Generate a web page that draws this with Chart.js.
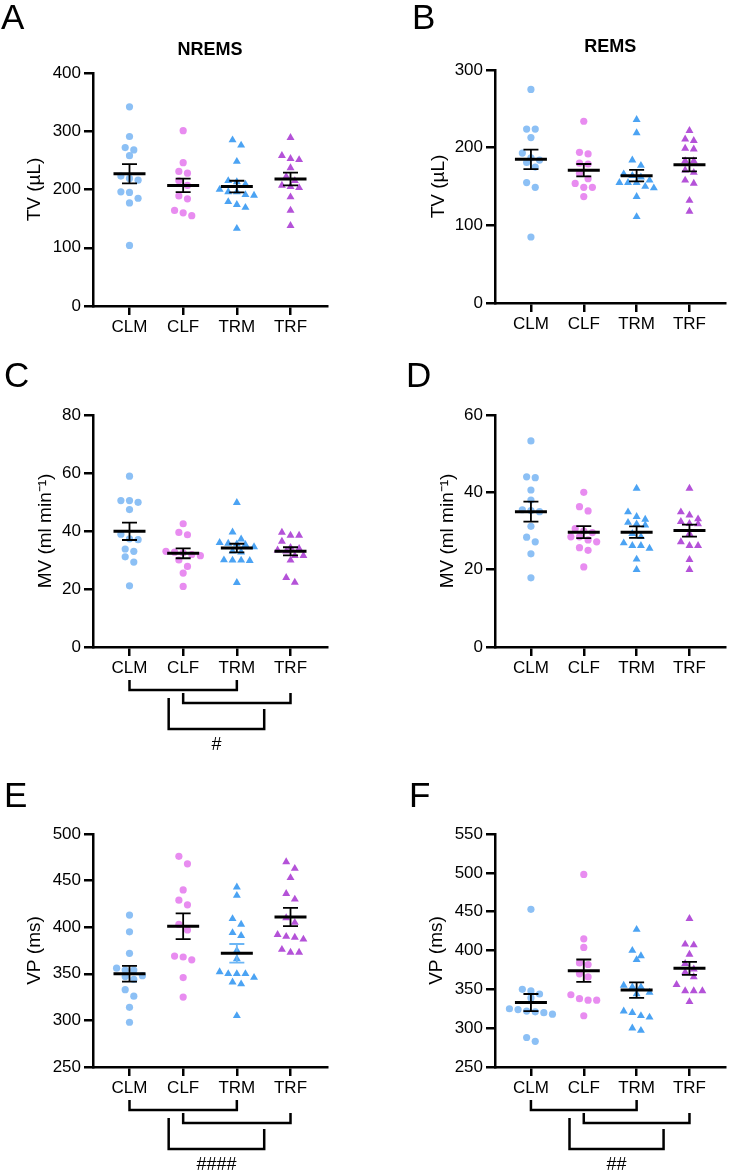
<!DOCTYPE html>
<html>
<head>
<meta charset="utf-8">
<script src="https://cdn.jsdelivr.net/npm/chart.js@4.4.1/dist/chart.umd.min.js"></script>
<style>
    body { margin: 0; background: #fff; }
    #figura { position: relative; width: 730px; height: 1171px; overflow: hidden; }
    canvas { position: absolute; }
</style>
</head>
<body>
<div id="figura">
    <canvas id="pA" width="365" height="340" style="left:0;top:0"></canvas>
    <canvas id="pB" width="365" height="340" style="left:365px;top:0"></canvas>
    <canvas id="pC" width="365" height="420" style="left:0;top:340px"></canvas>
    <canvas id="pD" width="365" height="420" style="left:365px;top:340px"></canvas>
    <canvas id="pE" width="365" height="411" style="left:0;top:760px"></canvas>
    <canvas id="pF" width="365" height="411" style="left:365px;top:760px"></canvas>
</div>
<script>
const grupos = ["CLM", "CLF", "TRM", "TRF"];

// A - TV NREMS (µL)
const tvNrems = [
    [342, 291, 272, 268, 258, 223, 219, 216, 196, 195, 185, 177, 104],
    [301, 246, 231, 228, 215, 207, 189, 184, 164, 160, 155],
    [285, 276, 248, 215, 213, 209, 200, 196, 196, 191, 190, 179, 174, 169, 133],
    [289, 258, 253, 251, 237, 222, 215, 207, 205, 203, 187, 164, 138],
];
const tvNremsMedia = [227, 207, 205, 218];
const tvNremsSem = [16.5, 11.5, 10, 11];

// B - TV REMS (µL)
const tvRems = [
    [275, 224, 224, 213, 193, 187, 184, 181, 175, 155, 149, 85],
    [234, 194, 192, 180, 179, 167, 160, 154, 149, 149, 137],
    [236, 219, 184, 177, 166, 164, 162, 158, 155, 155, 155, 150, 148, 137, 111],
    [222, 211, 209, 199, 198, 183, 183, 171, 168, 158, 154, 132, 118],
];
const tvRemsMedia = [185, 171, 164, 178];
const tvRemsSem = [12.6, 8, 7.5, 8.6];

// C - MV NREMS (ml min-1)
const mvNrems = [
    [58.9, 50.5, 50.5, 49.9, 47.4, 38.9, 37.3, 37, 33.8, 33, 31.1, 29.3, 21.1],
    [42.5, 39.5, 38.7, 33, 32.7, 32.5, 31.9, 31.5, 30, 27.8, 25.5, 20.9],
    [49.8, 39.6, 37.2, 36, 35.7, 35.5, 35.3, 34.5, 33, 32.7, 30, 29.9, 29.9, 29.8, 22.2],
    [39.5, 38.5, 38.5, 36.4, 34.3, 33.9, 33.4, 33, 31.5, 31.5, 29.9, 23.9, 22.3],
];
const mvNremsMedia = [39.9, 32.3, 34.1, 33];
const mvNremsSem = [3, 1.7, 1.5, 1.4];

// D - MV REMS (ml min-1)
const mvRems = [
    [53.3, 44, 43.8, 40.6, 38, 35.5, 35.3, 35, 31.2, 28.4, 27.2, 24.1, 17.9],
    [40, 36.3, 35.2, 30.6, 30, 29.6, 28.5, 28.5, 27.7, 27.2, 25.7, 25, 20.7],
    [41, 34.9, 33.7, 33, 32.2, 31.8, 31.5, 29.3, 28.5, 26.9, 26.2, 26.2, 25.5, 22.7, 20],
    [41, 34.9, 34.1, 33.1, 32.4, 31.9, 31.8, 29.3, 27.2, 26.2, 26.2, 22.6, 20],
];
const mvRemsMedia = [35, 29.7, 29.7, 30.1];
const mvRemsSem = [2.6, 1.55, 1.5, 1.55];

// E - VP NREMS (ms)
const vpNrems = [
    [413, 395, 372, 356, 354, 354, 348, 347, 344, 333, 326, 314, 298],
    [476, 468, 440, 429, 424, 403, 397, 369, 368, 365, 346, 325],
    [443, 434, 409, 403, 394, 391, 375, 366, 352, 350, 350, 350, 346, 341, 339, 305],
    [470, 463, 453, 436, 430, 410, 405, 392, 390, 389, 387, 376, 373, 373],
];
const vpNremsMedia = [350, 401, 372, 411];
const vpNremsSem = [8.4, 13.8, 10, 9.8];

// F - VP REMS (ms)
const vpRems = [
    [453, 350, 348, 344, 339, 325, 324, 322, 321, 320, 318, 288, 283],
    [498, 415, 404, 384, 382, 370, 366, 343, 338, 336, 336, 316],
    [427, 400, 393, 388, 355, 353, 353, 346, 344, 322, 320, 316, 314, 300, 297],
    [441, 408, 407, 395, 383, 376, 372, 366, 356, 348, 348, 348, 334],
];
const vpRemsMedia = [333, 374, 349, 377];
const vpRemsSem = [11, 14.4, 9.9, 8.4];

const colores = ["#8cc0f5", "#e88cf0", "#4ba3f3", "#b452d8"];
const formas = ["circle", "circle", "triangle", "triangle"];
const fuente = "'Liberation Sans', Arial, Helvetica, sans-serif";

Chart.defaults.font.family = fuente;
Chart.defaults.color = "#000";

// letra del panel y subtitulo
const pluginPanel = {
    id: "panel",
    afterDraw(chart, args, opts) {
        const ctx = chart.ctx;
        const area = chart.chartArea;
        ctx.save();
        ctx.fillStyle = "#000";
        ctx.textAlign = "left";
        ctx.textBaseline = "alphabetic";
        ctx.font = "35px " + fuente;
        ctx.fillText(opts.letra, opts.lx, opts.ly);
        if (opts.titulo) {
            ctx.font = "bold 18px " + fuente;
            ctx.textAlign = "center";
            ctx.textBaseline = "middle";
            ctx.fillText(opts.titulo, (area.left + area.right) / 2, area.top - 23);
        }
        ctx.restore();
    }
};

// media y SEM
const pluginEstadisticos = {
    id: "estadisticos",
    afterDatasetsDraw(chart, args, opts) {
        const ctx = chart.ctx;
        const xs = chart.scales.x;
        const ys = chart.scales.y;
        ctx.save();
        opts.media.forEach((m, g) => {
            const x = xs.getPixelForValue(g);
            const yM = ys.getPixelForValue(m);
            const yA = ys.getPixelForValue(m + opts.sem[g]);
            const yB = ys.getPixelForValue(m - opts.sem[g]);
            ctx.strokeStyle = (opts.colorBarra && opts.colorBarra[g]) || "#000";
            ctx.lineWidth = 1.8;
            ctx.beginPath();
            ctx.moveTo(x, yA); ctx.lineTo(x, yB);
            ctx.moveTo(x - 7.5, yA); ctx.lineTo(x + 7.5, yA);
            ctx.moveTo(x - 7.5, yB); ctx.lineTo(x + 7.5, yB);
            ctx.stroke();
            ctx.strokeStyle = "#000";
            ctx.lineWidth = 3;
            ctx.beginPath();
            ctx.moveTo(x - 16, yM); ctx.lineTo(x + 16, yM);
            ctx.stroke();
        });
        ctx.restore();
    }
};

// corchetes de comparacion bajo el eje x
const pluginCorchetes = {
    id: "corchetes",
    afterDraw(chart, args, opts) {
        if (!opts.items) return;
        const ctx = chart.ctx;
        const xs = chart.scales.x;
        const base = chart.chartArea.bottom;
        ctx.save();
        ctx.strokeStyle = "#000";
        ctx.lineWidth = 2.5;
        ctx.lineJoin = "miter";
        opts.items.forEach(c => {
            const x1 = xs.getPixelForValue(c.desde);
            const x2 = xs.getPixelForValue(c.hasta);
            ctx.beginPath();
            ctx.moveTo(x1, base + c.arribaIzq);
            ctx.lineTo(x1, base + c.linea);
            ctx.lineTo(x2, base + c.linea);
            ctx.lineTo(x2, base + c.arribaDer);
            ctx.stroke();
        });
        const ult = opts.items[opts.items.length - 1];
        ctx.fillStyle = "#000";
        ctx.font = "18px " + fuente;
        ctx.textAlign = "center";
        ctx.textBaseline = "middle";
        ctx.fillText(opts.etiqueta,
            (xs.getPixelForValue(ult.desde) + xs.getPixelForValue(ult.hasta)) / 2,
            base + opts.etiquetaY);
        ctx.restore();
    }
};

const corchetesBase = [
    { desde: 0, hasta: 2, arribaIzq: 33, arribaDer: 33, linea: 43 },
    { desde: 1, hasta: 3, arribaIzq: 46, arribaDer: 46, linea: 56 },
    { desde: 0.73, hasta: 2.51, arribaIzq: 51, arribaDer: 62, linea: 82 },
];

const ALTO_FILA = 7.5;
const PASO = 8.6;

// reparte los puntos de cada grupo en filas centradas (como GraphPad)
function distribuir(chart) {
    const xs = chart.scales.x;
    const ys = chart.scales.y;
    const unidad = xs.getPixelForValue(1) - xs.getPixelForValue(0);
    chart.data.datasets.forEach((ds, g) => {
        const ordenados = ds.valores.slice().sort((a, b) => b - a);
        const filas = [];
        ordenados.forEach(v => {
            const py = ys.getPixelForValue(v);
            const fila = filas[filas.length - 1];
            if (fila && py - fila.inicio < ALTO_FILA) {
                fila.valores.push(v);
            } else {
                filas.push({ inicio: py, valores: [v] });
            }
        });
        const puntos = [];
        filas.forEach(f => {
            const n = f.valores.length;
            f.valores.forEach((v, j) => {
                const dx = (j - (n - 1) / 2) * PASO;
                puntos.push({ x: g + dx / unidad, y: v });
            });
        });
        ds.data = puntos;
    });
    chart.update("none");
}

function crearPanel(id, cfg) {
    const datasets = grupos.map((g, i) => ({
        label: g,
        valores: cfg.valores[i],
        data: cfg.valores[i].map(v => ({ x: i, y: v })),
        pointStyle: formas[i],
        pointRadius: formas[i] === "circle" ? 3.6 : 4.6,
        pointHoverRadius: 0,
        backgroundColor: colores[i],
        borderColor: colores[i],
        borderWidth: 0,
    }));

    const chart = new Chart(document.getElementById(id), {
        type: "scatter",
        data: { datasets: datasets },
        options: {
            responsive: false,
            animation: false,
            devicePixelRatio: 1,
            events: [],
            layout: { padding: { top: cfg.arriba, right: cfg.derecha, bottom: cfg.abajo, left: 0 } },
            plugins: {
                legend: { display: false },
                tooltip: { enabled: false },
                panel: { letra: cfg.letra, lx: cfg.lx, ly: cfg.ly, titulo: cfg.titulo },
                estadisticos: { media: cfg.media, sem: cfg.sem, colorBarra: cfg.colorBarra },
                corchetes: cfg.corchetes || {},
            },
            scales: {
                x: {
                    type: "linear",
                    min: -0.68,
                    max: 3.68,
                    afterBuildTicks: s => { s.ticks = grupos.map((g, i) => ({ value: i })); },
                    afterFit: s => { s.height = 34; },
                    ticks: {
                        callback: v => grupos[v],
                        font: { size: 17 },
                        color: "#000",
                        padding: 2,
                        maxRotation: 0,
                        autoSkip: false,
                    },
                    grid: { drawOnChartArea: false, tickLength: 9, color: "#000", lineWidth: 2.5 },
                    border: { color: "#000", width: 2.5 },
                },
                y: {
                    min: cfg.min,
                    max: cfg.max,
                    afterFit: s => { s.width = cfg.anchoY; },
                    ticks: { stepSize: cfg.paso, font: { size: 17 }, color: "#000", padding: 3 },
                    title: {
                        display: true,
                        text: cfg.tituloY,
                        font: { size: 19 },
                        color: "#000",
                        padding: { top: cfg.padTitulo, bottom: 0 },
                    },
                    grid: { drawOnChartArea: false, tickLength: 9, color: "#000", lineWidth: 2.5 },
                    border: { color: "#000", width: 2.5 },
                },
            },
        },
        plugins: [pluginPanel, pluginEstadisticos, pluginCorchetes],
    });
    distribuir(chart);
    return chart;
}

crearPanel("pA", {
    valores: tvNrems, media: tvNremsMedia, sem: tvNremsSem,
    min: 0, max: 400, paso: 100, tituloY: "TV (µL)", titulo: "NREMS",
    letra: "A", lx: 1, ly: 29,
    arriba: 73, derecha: 38, abajo: 0, anchoY: 93, padTitulo: 23.5,
});

crearPanel("pB", {
    valores: tvRems, media: tvRemsMedia, sem: tvRemsSem,
    min: 0, max: 300, paso: 100, tituloY: "TV (µL)", titulo: "REMS",
    letra: "B", lx: 47, ly: 29,
    arriba: 70, derecha: 2, abajo: 3, anchoY: 130, padTitulo: 62,
});

crearPanel("pC", {
    valores: mvNrems, media: mvNremsMedia, sem: mvNremsSem,
    min: 0, max: 80, paso: 20, tituloY: "MV (ml min⁻¹)",
    letra: "C", lx: 4, ly: 47,
    arriba: 75, derecha: 38, abajo: 79, anchoY: 93, padTitulo: 34,
    corchetes: { items: corchetesBase, etiqueta: "#", etiquetaY: 98 },
});

crearPanel("pD", {
    valores: mvRems, media: mvRemsMedia, sem: mvRemsSem,
    min: 0, max: 60, paso: 20, tituloY: "MV (ml min⁻¹)",
    letra: "D", lx: 41, ly: 47,
    arriba: 75, derecha: 2, abajo: 79, anchoY: 130, padTitulo: 71,
});

crearPanel("pE", {
    valores: vpNrems, media: vpNremsMedia, sem: vpNremsSem,
    min: 250, max: 500, paso: 50, tituloY: "VP (ms)",
    letra: "E", lx: 4, ly: 47,
    arriba: 74, derecha: 38, abajo: 70, anchoY: 93, padTitulo: 23.5,
    colorBarra: ["#000", "#000", "#6cb6f5", "#000"],
    corchetes: { items: corchetesBase, etiqueta: "####", etiquetaY: 98 },
});

crearPanel("pF", {
    valores: vpRems, media: vpRemsMedia, sem: vpRemsSem,
    min: 250, max: 550, paso: 50, tituloY: "VP (ms)",
    letra: "F", lx: 44, ly: 47,
    arriba: 74, derecha: 2, abajo: 70, anchoY: 130, padTitulo: 60,
    corchetes: { items: corchetesBase, etiqueta: "##", etiquetaY: 98 },
});
</script>
</body>
</html>
